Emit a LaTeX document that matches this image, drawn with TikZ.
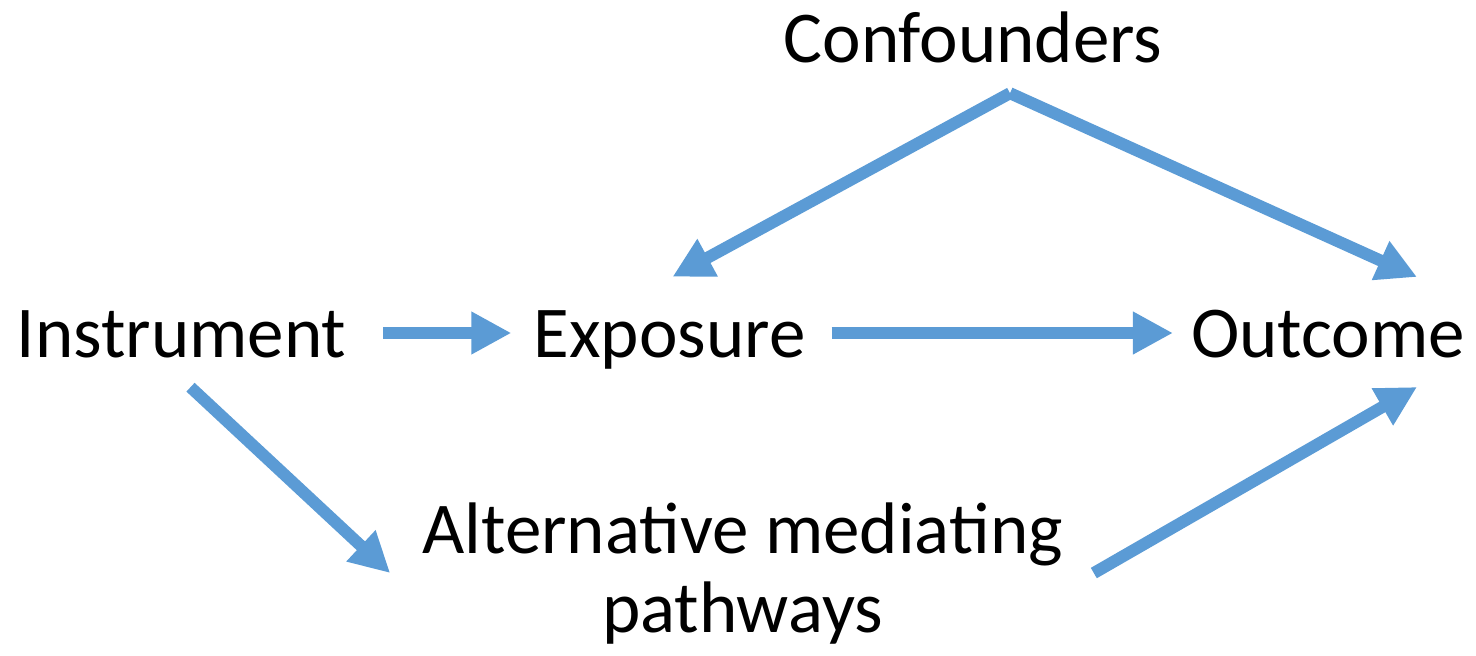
\documentclass[tikz,border=0pt]{standalone}
\usepackage{fontspec}
\setmainfont{Carlito}
\usetikzlibrary{arrows.meta}
\definecolor{arrowblue}{RGB}{91,155,213}
\begin{document}
\begin{tikzpicture}[x=1pt,y=-1pt,
    lbl/.style={font=\fontsize{73}{79}\selectfont, inner sep=0pt, anchor=base},
    word/.style={lbl, text height=48pt, text depth=0pt},
    arr/.style={draw=arrowblue, line width=12pt, -{Triangle[length=40pt,width=40pt]}, arrowblue}]
  \useasboundingbox (0,0) rectangle (1476,656);
  \node[word] (instr) at (181.5,357) {Instrument};
  \node[word] (expo) at (669.5,357) {Exposure};
  \node[word] (outc) at (1328,357) {Outcome};
  \node[word] (conf) at (973,62) {Confounders};
  \node[lbl, align=center] (alt) at (742.5,632) {Alternative mediating\\pathways};
  \coordinate (fork) at ([xshift=37pt,yshift=-31pt]conf.south);
  \draw[arr, shorten <=37pt, shorten >=22pt] (instr.east) -- (expo.west);
  \draw[arr, shorten <=26pt, shorten >=18pt] (expo.east) -- (outc.west);
  \draw[arr] (fork) -- ([xshift=3pt,yshift=32pt]expo.north);
  \draw[arr] (fork) -- ([xshift=-48pt,yshift=56pt]outc.east);
  \draw[arr] ([xshift=9pt,yshift=-30pt]instr.south) -- ([xshift=-32pt]alt.west);
  \draw[arr] ([xshift=31pt]alt.east) -- ([xshift=-48pt,yshift=-54pt]outc.east);
\end{tikzpicture}
\end{document}
